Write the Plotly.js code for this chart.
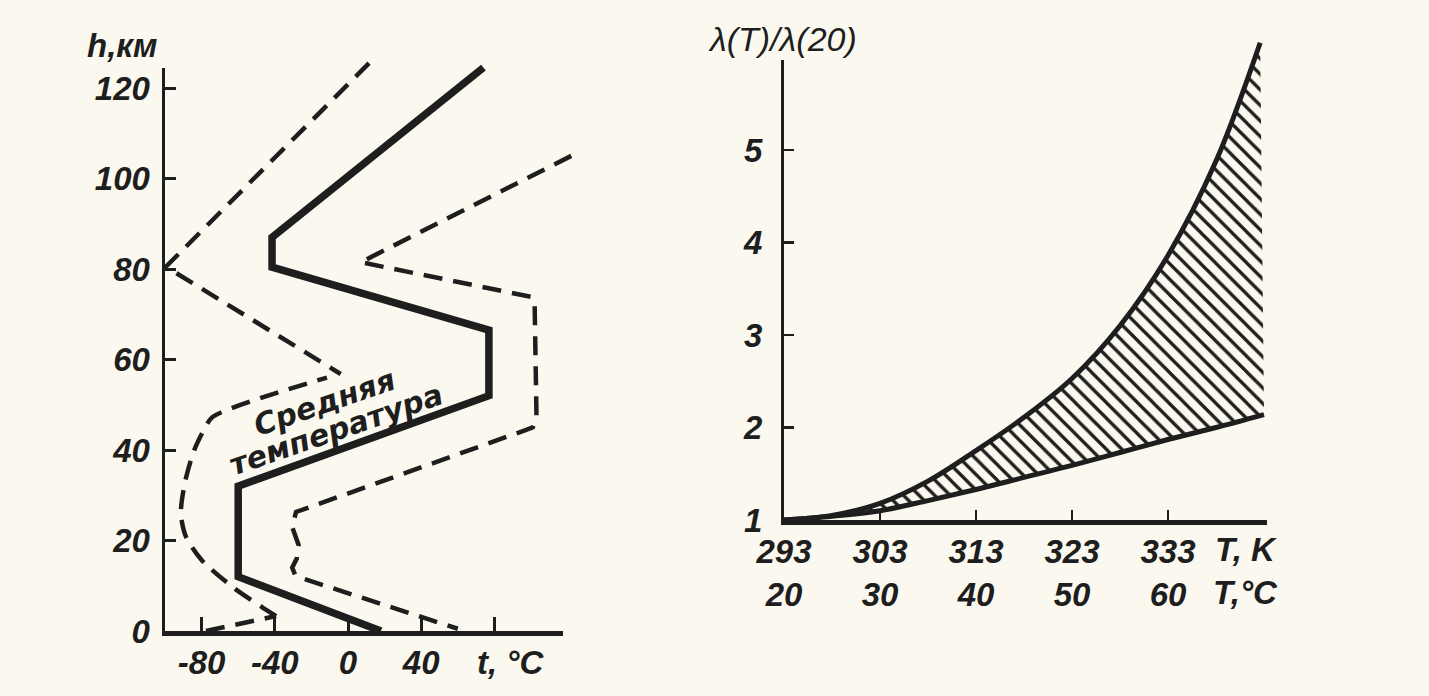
<!DOCTYPE html>
<html>
<head>
<meta charset="utf-8">
<script src="https://cdn.plot.ly/plotly-3.0.1.min.js"></script>
<style>
html,body{margin:0;padding:0;background:#fbf9ef;}
#chart{width:1429px;height:696px;}
</style>
</head>
<body>
<div id="chart"></div>
<script>
// ---------- Left chart: temperature vs height ----------
const meanT = [18, -60, -60, 77, 77, -41.5, -41.5, 74];
const meanH = [0, 12, 32, 52, 66.5, 80.4, 87, 124.5];

const coldUpperT = [11.5, -99.5, -4];
const coldUpperH = [125.5, 80.5, 56.8];

const coldBaseT = [-77.6, -39.3];
const coldBaseH = [0, 3.3];

const coldCurveT = [-39.3, -47, -63, -80, -88.5, -91.3, -89, -84, -78, -74, -11.5];
const coldCurveH = [3.3, 5.3, 9.7, 15.7, 20.8, 26, 33, 40, 45, 47.3, 56];

const warmT = [122, 7, 100.5, 102, 103, 101, 97, -28.4, -30.5, -27, -28, -30.5, -29, -24, 60];
const warmH = [105, 81.5, 73.8, 72, 47.5, 45, 44.4, 26.3, 23, 19, 16, 14, 12.5, 11.5, 0.5];

const leftYTicks = [0, 20, 40, 60, 80, 100, 120];
const leftXTicks = [-80, -40, 0, 40, 80];
const leftXTickText = ['-80', '-40', '0', '40', ''];

// ---------- Right chart: λ(T)/λ(20) ----------
const tempUpperC = [20, 25, 30, 35, 40, 45, 50, 55, 60, 65, 69.6];
const lambdaUpper = [1, 1.05, 1.18, 1.42, 1.75, 2.11, 2.53, 3.1, 3.86, 4.88, 6.16];
const tempLowerC = [20, 25, 30, 35, 40, 45, 50, 55, 60, 65, 70];
const lambdaLower = [1, 1.04, 1.1, 1.21, 1.33, 1.46, 1.59, 1.73, 1.87, 2.0, 2.14];

const rightXTicks = [20, 30, 40, 50, 60];
const rightXTickText = ['293<br>20', '303<br>30', '313<br>40', '323<br>50', '333<br>60'];
const rightYTicks = [1, 2, 3, 4, 5];

// ---------- geometry helpers ----------
const W = 1429, H = 696;
const fx = px => px / W;
const fy = py => 1 - py / H;
// left chart scale
const LX0 = 165, LSX = 1.83, LY0 = 631, LSY = 4.525;
const lX = t => LX0 + (t + 100) * LSX;
const lY = h => LY0 - h * LSY;
// right chart scale
const RX0 = 784, RSX = 9.6, RY0 = 520, RSY = 92.5;
const rX = t => RX0 + (t - 20) * RSX;
const rY = v => RY0 - (v - 1) * RSY;

const INK = '#1e1e1e';
const FONT = '"Liberation Sans", Arial, sans-serif';
const tickFont = {family: FONT, size: 33, color: INK, style: 'italic', weight: 'bold'};

const dash = '19px,11px';

const traces = [
  {x: meanT, y: meanH, xaxis: 'x', yaxis: 'y', mode: 'lines',
   line: {color: INK, width: 7.5}, hoverinfo: 'skip'},
  {x: coldUpperT, y: coldUpperH, xaxis: 'x', yaxis: 'y', mode: 'lines',
   line: {color: INK, width: 4.5, dash: dash}, hoverinfo: 'skip'},
  {x: coldBaseT, y: coldBaseH, xaxis: 'x', yaxis: 'y', mode: 'lines',
   line: {color: INK, width: 4.5, dash: dash}, hoverinfo: 'skip'},
  {x: coldCurveT, y: coldCurveH, xaxis: 'x', yaxis: 'y', mode: 'lines',
   line: {color: INK, width: 4.5, dash: dash, shape: 'spline', smoothing: 0.8}, hoverinfo: 'skip'},
  {x: warmT, y: warmH, xaxis: 'x', yaxis: 'y', mode: 'lines',
   line: {color: INK, width: 4.5, dash: dash}, hoverinfo: 'skip'},
  {x: [], y: [], xaxis: 'x3', yaxis: 'y3', mode: 'lines', hoverinfo: 'skip'},
  // right chart
  {x: tempLowerC, y: lambdaLower, xaxis: 'x2', yaxis: 'y2', mode: 'lines',
   line: {color: INK, width: 5, shape: 'spline'}, hoverinfo: 'skip'},
  {x: tempUpperC, y: lambdaUpper, xaxis: 'x2', yaxis: 'y2', mode: 'lines',
   line: {color: INK, width: 5, shape: 'spline'}, fill: 'tonexty',
   fillcolor: 'rgba(0,0,0,0)',
   fillpattern: {shape: '\\', fgcolor: INK, bgcolor: 'rgba(0,0,0,0)', size: 11, solidity: 0.3},
   hoverinfo: 'skip'},
  {x: [], y: [], xaxis: 'x4', yaxis: 'y4', mode: 'lines', hoverinfo: 'skip'}
];

const hidden = {visible: true, showline: false, showgrid: false, zeroline: false,
                showticklabels: false, ticks: '', fixedrange: true};

const layout = {
  width: W, height: H,
  margin: {l: 0, r: 0, t: 0, b: 0},
  paper_bgcolor: '#fbf9ef', plot_bgcolor: 'rgba(0,0,0,0)',
  showlegend: false,
  // data axes (left)
  xaxis: Object.assign({}, hidden, {range: [-104, 126], domain: [fx(lX(-104)), fx(lX(126))], anchor: 'y'}),
  yaxis: Object.assign({}, hidden, {range: [-2, 127], domain: [fy(lY(-2)), fy(lY(127))], anchor: 'x'}),
  // visible axes (left)
  xaxis3: {range: [-100, 117.5], domain: [fx(lX(-100)), fx(lX(117.5))], anchor: 'y3',
    showline: true, linecolor: INK, linewidth: 5, showgrid: false, zeroline: false,
    tickmode: 'array', tickvals: leftXTicks, ticktext: leftXTickText,
    ticks: 'inside', ticklen: 14, tickwidth: 3, tickcolor: INK,
    tickfont: tickFont, ticklabelstandoff: -2, fixedrange: true},
  yaxis3: {range: [0, 124.4], domain: [fy(lY(0)), fy(lY(124.4))], anchor: 'x3',
    showline: true, linecolor: INK, linewidth: 3.5, showgrid: false, zeroline: false,
    tickmode: 'array', tickvals: leftYTicks,
    ticks: 'inside', ticklen: 11, tickwidth: 3, tickcolor: INK,
    tickfont: tickFont, ticklabelstandoff: 5, fixedrange: true},
  // data axes (right)
  xaxis2: Object.assign({}, hidden, {range: [19.6, 70.8], domain: [fx(rX(19.6)), fx(rX(70.8))], anchor: 'y2'}),
  yaxis2: Object.assign({}, hidden, {range: [0.96, 6.3], domain: [fy(rY(0.96)), fy(rY(6.3))], anchor: 'x2'}),
  // visible axes (right)
  xaxis4: {range: [20, 70.3], domain: [fx(rX(20)), fx(rX(70.3))], anchor: 'y4',
    showline: true, linecolor: INK, linewidth: 5, showgrid: false, zeroline: false,
    tickmode: 'array', tickvals: rightXTicks, ticktext: rightXTickText,
    ticks: 'inside', ticklen: 10, tickwidth: 2.5, tickcolor: INK,
    tickfont: tickFont, ticklabelstandoff: -2, fixedrange: true},
  yaxis4: {range: [1, 5.97], domain: [fy(rY(1)), fy(rY(5.97))], anchor: 'x4',
    showline: true, linecolor: INK, linewidth: 3, showgrid: false, zeroline: false,
    tickmode: 'array', tickvals: rightYTicks,
    ticks: 'inside', ticklen: 10, tickwidth: 2.5, tickcolor: INK,
    tickfont: tickFont, ticklabelstandoff: 12, fixedrange: true},
  annotations: [
    {text: 'h,км', xref: 'paper', yref: 'paper', x: fx(122), y: fy(45),
     xanchor: 'center', yanchor: 'middle', showarrow: false,
     font: {family: FONT, size: 33, color: INK, style: 'italic', weight: 'bold'}},
    {text: 't, °C', xref: 'paper', yref: 'paper', x: fx(511), y: fy(662),
     xanchor: 'center', yanchor: 'middle', showarrow: false, font: tickFont},
    {text: 'Средняя', xref: 'paper', yref: 'paper', x: fx(324), y: fy(403),
     xanchor: 'center', yanchor: 'middle', showarrow: false, textangle: -19,
     font: {family: '"DejaVu Sans", sans-serif', size: 30, color: INK, style: 'italic', weight: 'bold'}},
    {text: 'температура', xref: 'paper', yref: 'paper', x: fx(336), y: fy(429),
     xanchor: 'center', yanchor: 'middle', showarrow: false, textangle: -19,
     font: {family: '"DejaVu Sans", sans-serif', size: 30, color: INK, style: 'italic', weight: 'bold'}},
    {text: 'λ(T)/λ(20)', xref: 'paper', yref: 'paper', x: fx(782), y: fy(39),
     xanchor: 'center', yanchor: 'middle', showarrow: false,
     font: {family: FONT, size: 34, color: INK, style: 'italic'}},
    {text: 'T, K<br>T,°C', xref: 'paper', yref: 'paper', x: fx(1245), y: fy(571),
     xanchor: 'center', yanchor: 'middle', showarrow: false, font: tickFont}
  ]
};

Plotly.newPlot('chart', traces, layout, {staticPlot: true, displayModeBar: false});
</script>
</body>
</html>
